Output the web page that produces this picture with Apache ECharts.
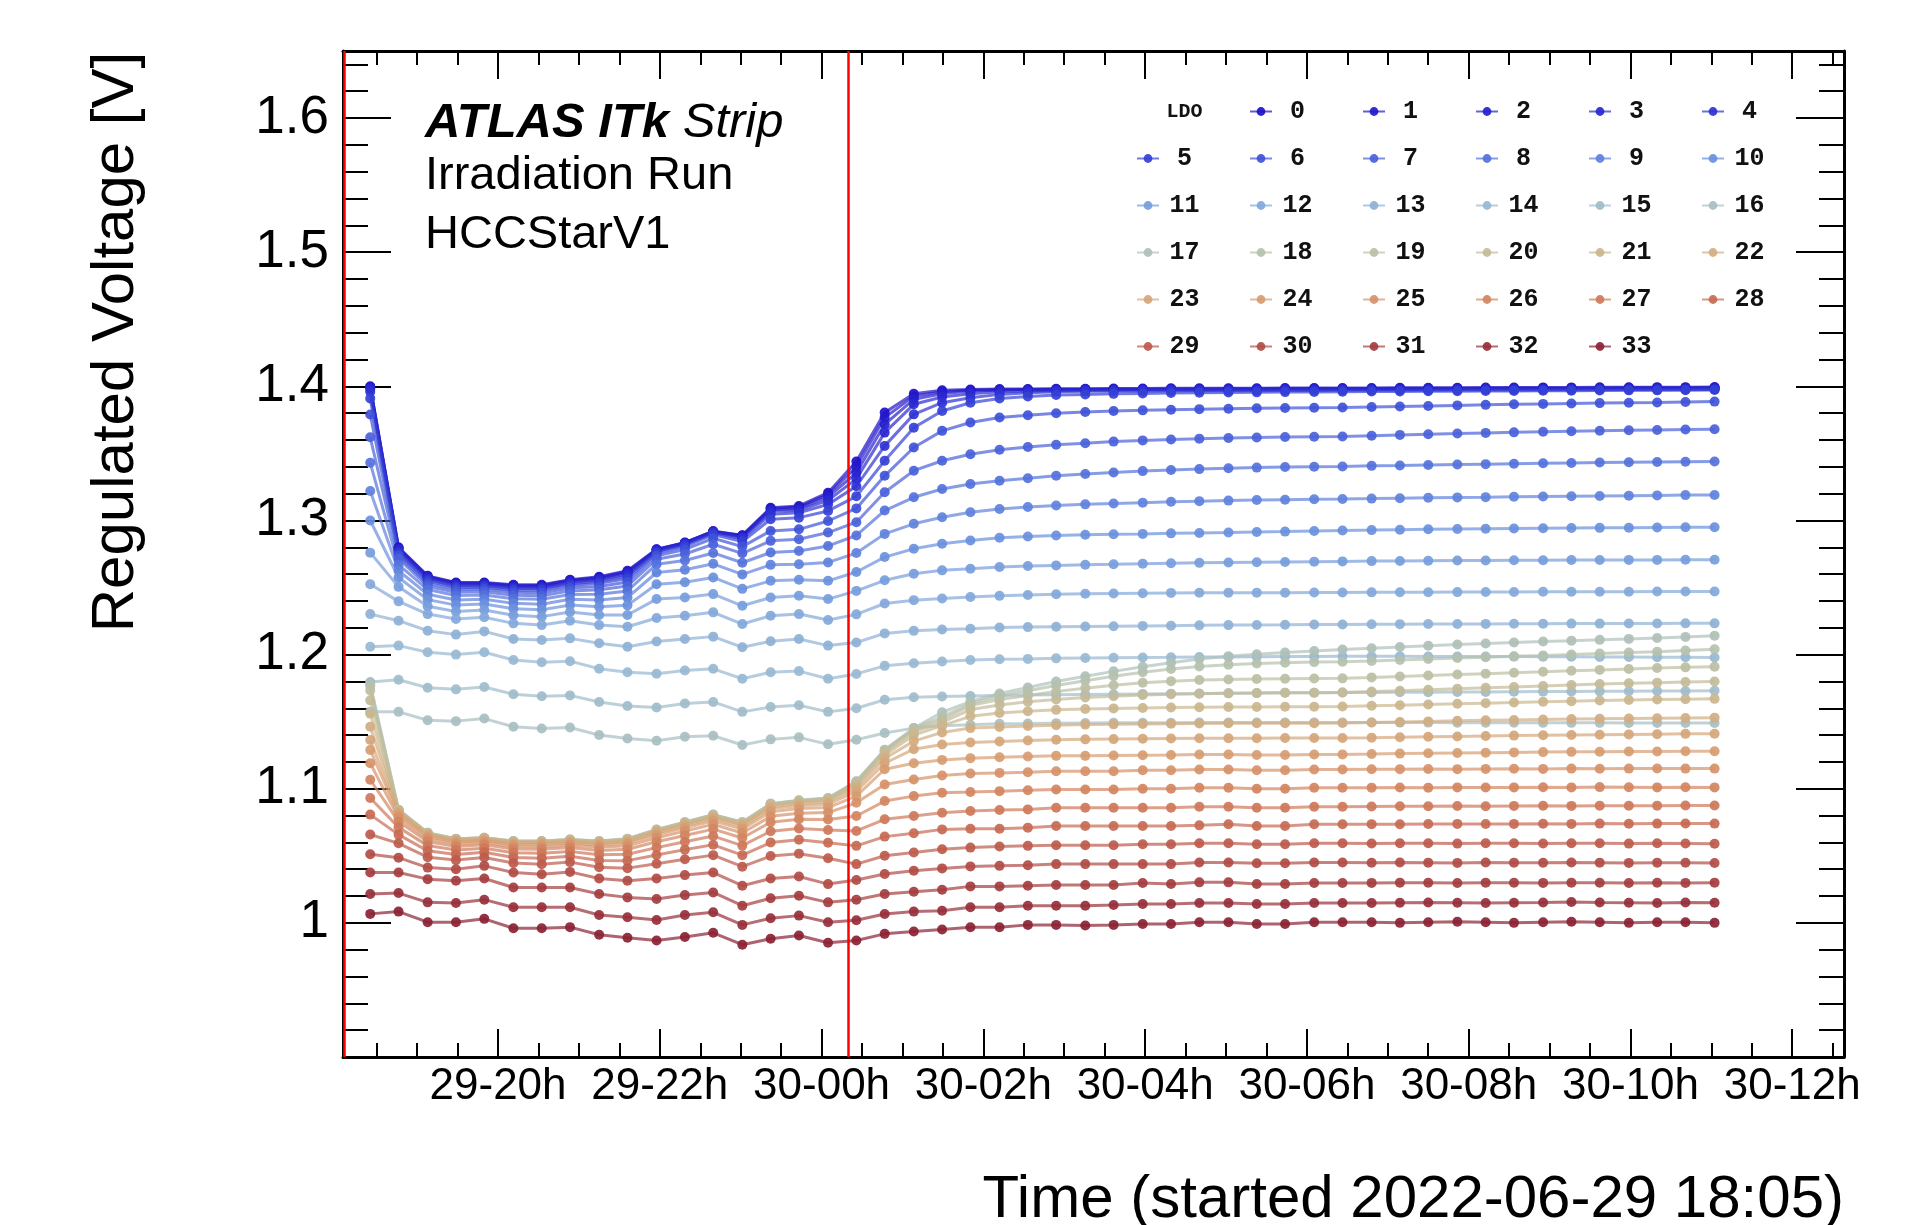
<!DOCTYPE html>
<html>
<head>
<meta charset="utf-8">
<title>HCCStarV1 LDO regulated voltage</title>
<script src="https://cdn.jsdelivr.net/npm/echarts@6/dist/echarts.min.js"></script>
<style>
  html, body { margin: 0; padding: 0; background: #fff; }
  #chart { width: 1914px; height: 1225px; }
</style>
</head>
<body>
<div id="chart"></div>
<script>
// time of each reading, hours since 29 June 00:00
var times = [18.42,18.77,19.13,19.48,19.83,20.19,20.54,20.89,21.25,21.60,
  21.96,22.31,22.66,23.02,23.37,23.72,24.08,24.43,24.78,25.14,
  25.49,25.84,26.20,26.55,26.90,27.26,27.61,27.97,28.32,28.67,
  29.03,29.38,29.73,30.09,30.44,30.80,31.15,31.50,31.86,32.21,
  32.56,32.92,33.27,33.62,33.98,34.33,34.68,35.04];

// regulated voltage [V] per LDO setting
var ldo0 = [1.400,1.280,1.2587,1.2538,1.2538,1.252,1.252,1.2558,1.258,1.2625,1.2786,1.2835,1.292,1.289,1.3095,1.3108,1.3207,1.344,
  1.3804,1.3945,1.397,1.3977,1.398,1.398,1.3982,1.3982,1.3984,1.3984,1.3985,1.3985,1.3986,1.3986,1.3987,1.3987,1.3988,1.3988,1.3989,1.399,1.399,1.3991,1.3991,1.3992,1.3992,1.3993,1.3993,1.3994,1.3994,1.3995];
var ldo1 = [1.3995,1.2795,1.2583,1.2534,1.2534,1.2516,1.2516,1.2554,1.2575,1.2619,1.2784,1.2834,1.2919,1.2887,1.3089,1.31,1.3195,1.340,
  1.3767,1.3927,1.396,1.3972,1.3975,1.3977,1.3978,1.3979,1.398,1.398,1.3981,1.3981,1.3982,1.3982,1.3983,1.3983,1.3984,1.3984,1.3985,1.3985,1.3986,1.3986,1.3987,1.3987,1.3988,1.3988,1.3989,1.3989,1.399,1.399];
var ldo2 = [1.399,1.279,1.2578,1.2529,1.2529,1.2511,1.251,1.2548,1.2568,1.2611,1.2781,1.2832,1.2917,1.2882,1.308,1.309,1.3175,1.3355,
  1.3717,1.3903,1.3945,1.3965,1.3972,1.3974,1.3975,1.3976,1.3977,1.3977,1.3978,1.3978,1.3979,1.3979,1.398,1.398,1.398,1.3981,1.3981,1.3982,1.3982,1.3983,1.3983,1.3984,1.3984,1.3985,1.3985,1.3986,1.3986,1.3987];
var ldo3 = [1.398,1.278,1.257,1.2521,1.2522,1.2503,1.2502,1.254,1.2558,1.26,1.2776,1.2828,1.2914,1.2875,1.3068,1.3076,1.315,1.331,
  1.3655,1.3866,1.392,1.3945,1.396,1.3965,1.3968,1.397,1.3971,1.3972,1.3973,1.3973,1.3974,1.3974,1.3975,1.3975,1.3976,1.3976,1.3977,1.3977,1.3978,1.3978,1.3979,1.3979,1.398,1.398,1.398,1.3981,1.3981,1.3982];
var ldo4 = [1.396,1.2765,1.256,1.2512,1.2513,1.2493,1.2492,1.2529,1.2546,1.2585,1.2768,1.282,1.2908,1.2863,1.3046,1.3058,1.312,1.3255,
  1.3556,1.3791,1.3878,1.3915,1.394,1.3952,1.396,1.3963,1.3965,1.3966,1.3967,1.3967,1.3968,1.3968,1.3969,1.3969,1.397,1.397,1.3971,1.3971,1.3972,1.3972,1.3973,1.3973,1.3974,1.3974,1.3975,1.3975,1.3976,1.3976];
var ldo5 = [1.391,1.275,1.2548,1.25,1.2502,1.2481,1.2479,1.2516,1.2531,1.2568,1.2755,1.2806,1.2895,1.2843,1.3009,1.3021,1.3071,1.318,
  1.3445,1.3692,1.3816,1.3878,1.391,1.3925,1.3935,1.394,1.3944,1.3947,1.395,1.3952,1.3954,1.3955,1.3957,1.3958,1.396,1.3961,1.3962,1.3963,1.3964,1.3965,1.3966,1.3967,1.3968,1.3969,1.397,1.397,1.3971,1.3972];
var ldo6 = [1.379,1.2735,1.253,1.2484,1.2487,1.2464,1.2461,1.2497,1.2508,1.2542,1.2736,1.2784,1.2867,1.2805,1.2922,1.2934,1.2996,1.309,
  1.3333,1.3544,1.3668,1.373,1.3767,1.3785,1.3799,1.3808,1.3816,1.3821,1.3826,1.383,1.3833,1.3836,1.3838,1.384,1.3842,1.3846,1.385,1.3854,1.3858,1.3862,1.3866,1.3869,1.3872,1.3875,1.3878,1.388,1.3883,1.3886];
var ldo7 = [1.362,1.2715,1.251,1.2464,1.2468,1.2442,1.2439,1.2475,1.2483,1.2512,1.2711,1.275,1.2823,1.2755,1.2848,1.286,1.291,1.2987,
  1.321,1.3371,1.3445,1.3494,1.3527,1.3548,1.3564,1.3576,1.3588,1.3597,1.3604,1.361,1.3615,1.3619,1.3622,1.3624,1.3626,1.3632,1.3638,1.3643,1.3648,1.3653,1.3657,1.3661,1.3665,1.3669,1.3672,1.3675,1.3678,1.368];
var ldo8 = [1.343,1.267,1.2485,1.244,1.2445,1.2417,1.2412,1.2448,1.245,1.2474,1.2674,1.2702,1.2758,1.2685,1.2761,1.2773,1.281,1.2888,
  1.3074,1.3173,1.3235,1.3272,1.3296,1.3315,1.3333,1.3346,1.3358,1.3368,1.3376,1.3383,1.3389,1.3394,1.3398,1.3401,1.3403,1.3407,1.341,1.3414,1.3417,1.342,1.3423,1.3426,1.3429,1.3432,1.3434,1.3436,1.3438,1.344];
var ldo9 = [1.322,1.2625,1.245,1.2407,1.2413,1.2382,1.2376,1.2412,1.2407,1.2425,1.2612,1.2633,1.2677,1.2598,1.2669,1.2674,1.2687,1.2757,
  1.29,1.2975,1.3024,1.3061,1.3086,1.31,1.3111,1.312,1.3127,1.3133,1.3139,1.3144,1.3148,1.3152,1.3155,1.3158,1.316,1.3163,1.3166,1.3169,1.3172,1.3174,1.3177,1.3179,1.3181,1.3183,1.3185,1.3187,1.3189,1.319];
var ldo10 = [1.300,1.2575,1.241,1.2369,1.2377,1.2342,1.2334,1.2369,1.2357,1.2367,1.2525,1.254,1.2575,1.249,1.255,1.2558,1.255,1.2616,
  1.2727,1.2789,1.2826,1.2851,1.2871,1.2881,1.2888,1.2893,1.2897,1.29,1.2904,1.2907,1.291,1.2914,1.2917,1.2921,1.2925,1.2928,1.2931,1.2934,1.2936,1.2938,1.294,1.2942,1.2944,1.2945,1.2946,1.2948,1.2949,1.295];
var ldo11 = [1.276,1.2505,1.236,1.2322,1.2333,1.2293,1.2283,1.2317,1.2295,1.2295,1.2414,1.2426,1.2451,1.2364,1.2426,1.2439,1.2414,1.2475,
  1.2554,1.2603,1.2628,1.264,1.2653,1.266,1.2665,1.267,1.2673,1.2678,1.2681,1.2684,1.2687,1.2689,1.2691,1.2693,1.2695,1.2697,1.2698,1.27,1.2701,1.2702,1.2703,1.2704,1.2705,1.2705,1.2706,1.2706,1.2707,1.2707];
var ldo12 = [1.2525,1.2397,1.2302,1.2265,1.2278,1.2233,1.222,1.2253,1.222,1.2208,1.2273,1.229,1.2315,1.2228,1.229,1.2302,1.2258,1.23,
  1.2381,1.2406,1.2418,1.243,1.2438,1.2444,1.245,1.2453,1.2456,1.2458,1.246,1.2461,1.2462,1.2462,1.2462,1.2463,1.2463,1.2464,1.2465,1.2465,1.2466,1.2467,1.2467,1.2468,1.2468,1.2469,1.2469,1.247,1.247,1.247];
var ldo13 = [1.2302,1.2253,1.2178,1.2149,1.2173,1.2116,1.2109,1.2121,1.2084,1.2059,1.2097,1.2116,1.2134,1.2055,1.2099,1.2116,1.2067,1.209,
  1.2158,1.2177,1.2187,1.2193,1.2202,1.2205,1.2208,1.221,1.2212,1.2214,1.2216,1.2218,1.222,1.2221,1.2222,1.2224,1.2225,1.2226,1.2227,1.2228,1.2228,1.2229,1.223,1.223,1.2231,1.2231,1.2232,1.2232,1.2233,1.2233];
var ldo14 = [1.2059,1.2067,1.2017,1.2,1.2017,1.196,1.1943,1.1951,1.1894,1.1869,1.1857,1.1881,1.1894,1.182,1.1869,1.1877,1.182,1.1856,
  1.1916,1.1935,1.1948,1.196,1.1965,1.1968,1.1972,1.1975,1.1977,1.1979,1.198,1.1982,1.1983,1.1984,1.1985,1.1986,1.1987,1.1987,1.1987,1.1986,1.1986,1.1985,1.1985,1.1984,1.1984,1.1983,1.1982,1.1981,1.198,1.1978];
var ldo15 = [1.1795,1.1812,1.1753,1.1741,1.1758,1.1704,1.1689,1.1696,1.1647,1.1617,1.1605,1.1635,1.1647,1.1573,1.161,1.1622,1.1573,1.16,
  1.1663,1.1682,1.1687,1.1692,1.1695,1.1698,1.17,1.1703,1.1705,1.1707,1.1709,1.171,1.1712,1.1713,1.1715,1.1716,1.1717,1.1718,1.1719,1.172,1.1721,1.1722,1.1723,1.1724,1.1725,1.1726,1.1727,1.1728,1.1729,1.173];
var ldo16 = [1.1573,1.1573,1.1511,1.1504,1.1523,1.1462,1.1449,1.1457,1.14,1.1375,1.1358,1.1388,1.1395,1.1326,1.1368,1.1383,1.1331,1.1365,
  1.1415,1.1452,1.147,1.1477,1.1484,1.1486,1.1489,1.149,1.1491,1.1492,1.1492,1.1493,1.1493,1.1494,1.1494,1.1494,1.1494,1.1494,1.1493,1.1493,1.1492,1.1492,1.1492,1.1491,1.1491,1.1491,1.149,1.149,1.149,1.149];
var ldo17 = [1.178,1.0844,1.0672,1.0627,1.0635,1.061,1.061,1.0622,1.061,1.0627,1.0696,1.0751,1.0807,1.0751,1.0889,1.0914,1.0931,1.1056,
  1.1291,1.1452,1.157,1.165,1.171,1.1755,1.18,1.1838,1.1875,1.191,1.194,1.1968,1.1988,1.2003,1.2015,1.2027,1.2038,1.2048,1.2057,1.2066,1.2075,1.2083,1.209,1.2097,1.2104,1.211,1.2117,1.2124,1.2132,1.214];
var ldo18 = [1.1765,1.0843,1.0671,1.0626,1.0634,1.0609,1.0609,1.0621,1.0609,1.0626,1.0695,1.075,1.0806,1.075,1.0887,1.0912,1.0929,1.1053,
  1.1288,1.1448,1.1535,1.1635,1.169,1.173,1.177,1.1805,1.1838,1.1868,1.1893,1.1912,1.1925,1.1933,1.194,1.1944,1.1947,1.1953,1.196,1.1967,1.1974,1.198,1.1987,1.1994,1.2001,1.2008,1.2015,1.2022,1.203,1.204];
var ldo19 = [1.1733,1.0841,1.067,1.0625,1.0634,1.0608,1.0608,1.062,1.0608,1.0625,1.0693,1.0748,1.0804,1.0748,1.0885,1.091,1.0927,1.1047,
  1.128,1.144,1.1515,1.162,1.1665,1.1695,1.1725,1.175,1.1772,1.179,1.1802,1.181,1.1815,1.1818,1.182,1.1822,1.1823,1.183,1.1837,1.1844,1.1851,1.1858,1.1865,1.1872,1.1879,1.1886,1.1893,1.19,1.1905,1.191];
var ldo20 = [1.1659,1.0839,1.0668,1.0624,1.0632,1.0606,1.0606,1.0618,1.0606,1.0622,1.069,1.0745,1.0801,1.0744,1.0881,1.0905,1.0921,1.1038,
  1.1268,1.1425,1.1495,1.159,1.1625,1.1648,1.1665,1.168,1.169,1.1698,1.1704,1.1708,1.1711,1.1713,1.1715,1.1716,1.1717,1.1724,1.1731,1.1738,1.1745,1.1752,1.1759,1.1766,1.1773,1.178,1.1786,1.1791,1.1796,1.18];
var ldo21 = [1.156,1.0834,1.0665,1.0621,1.0629,1.0604,1.0603,1.0615,1.0602,1.0619,1.0686,1.074,1.0795,1.0738,1.0874,1.0899,1.0914,1.1025,
  1.125,1.14,1.147,1.154,1.1565,1.1578,1.1588,1.1595,1.1599,1.1602,1.1605,1.1607,1.1609,1.161,1.1611,1.1612,1.1613,1.1618,1.1623,1.1628,1.1633,1.1638,1.1643,1.1648,1.1653,1.1658,1.1662,1.1665,1.1668,1.167];
var ldo22 = [1.1462,1.0828,1.066,1.0617,1.0626,1.0599,1.0599,1.0611,1.0597,1.0613,1.068,1.0733,1.0788,1.073,1.0864,1.0888,1.0902,1.1005,
  1.1225,1.1355,1.142,1.1452,1.146,1.1468,1.1474,1.1478,1.148,1.1483,1.1485,1.1487,1.1488,1.1488,1.1489,1.1489,1.149,1.1494,1.1498,1.1502,1.1506,1.151,1.1513,1.1516,1.1519,1.1522,1.1524,1.1526,1.1528,1.153];
var ldo23 = [1.1363,1.0819,1.0654,1.0611,1.062,1.0594,1.0593,1.0605,1.059,1.0605,1.067,1.0723,1.0777,1.0718,1.085,1.0874,1.0886,1.098,
  1.119,1.1295,1.133,1.1345,1.1352,1.136,1.1365,1.1368,1.137,1.1372,1.1374,1.1376,1.1377,1.1377,1.1378,1.1378,1.1378,1.1381,1.1384,1.1387,1.139,1.1393,1.1396,1.1399,1.1401,1.1403,1.1405,1.1407,1.1409,1.141];
var ldo24 = [1.1289,1.0805,1.0643,1.0602,1.0612,1.0584,1.0583,1.0595,1.0579,1.0593,1.0656,1.0708,1.0759,1.0699,1.0828,1.0852,1.086,1.0945,
  1.1145,1.119,1.1215,1.1228,1.1235,1.124,1.1245,1.1245,1.1248,1.125,1.1252,1.1255,1.1255,1.1252,1.1252,1.1255,1.1256,1.1259,1.1262,1.1265,1.1267,1.1269,1.1271,1.1273,1.1275,1.1276,1.1277,1.1278,1.1279,1.128];
var ldo25 = [1.119,1.0783,1.0628,1.0588,1.0599,1.057,1.0568,1.0581,1.0563,1.0574,1.0634,1.0684,1.0734,1.067,1.0794,1.0817,1.0822,1.0895,
  1.1032,1.1069,1.1098,1.1113,1.1118,1.1123,1.113,1.113,1.113,1.1138,1.1138,1.1143,1.1143,1.1138,1.1138,1.1143,1.1143,1.1145,1.1146,1.1147,1.1146,1.1148,1.1149,1.1148,1.115,1.1149,1.115,1.1151,1.115,1.115];
var ldo26 = [1.1067,1.0755,1.0607,1.057,1.0583,1.0551,1.0548,1.0562,1.054,1.0549,1.0605,1.0652,1.0699,1.0633,1.075,1.0772,1.0771,1.0797,
  1.0908,1.0945,1.097,1.0975,1.0982,1.0989,1.0994,1.0994,1.0994,1.1,1.1,1.1007,1.1007,1.1,1.1,1.1007,1.1007,1.1008,1.1009,1.1008,1.101,1.1009,1.101,1.1011,1.101,1.1012,1.1011,1.101,1.1011,1.101];
var ldo27 = [1.0931,1.0712,1.0576,1.0543,1.0557,1.0523,1.0519,1.0532,1.0507,1.0511,1.0561,1.0605,1.0647,1.0576,1.0683,1.0704,1.0693,1.0685,
  1.0772,1.0797,1.0821,1.0834,1.0841,1.0846,1.0858,1.0858,1.0858,1.0858,1.0858,1.0866,1.0866,1.0858,1.0858,1.0866,1.0866,1.0868,1.0869,1.087,1.0871,1.087,1.0872,1.0873,1.0872,1.0874,1.0873,1.0874,1.0875,1.0875];
var ldo28 = [1.0807,1.0658,1.0537,1.0509,1.0526,1.0488,1.0482,1.0496,1.0465,1.0464,1.0506,1.0546,1.0582,1.0505,1.0599,1.0619,1.0597,1.0574,
  1.0643,1.0668,1.0697,1.0702,1.0702,1.071,1.0722,1.0722,1.0722,1.0722,1.0722,1.0727,1.0735,1.0722,1.0722,1.0735,1.0735,1.0736,1.0735,1.0737,1.0738,1.0737,1.0738,1.0739,1.0738,1.074,1.0739,1.074,1.0741,1.074];
var ldo29 = [1.0659,1.0593,1.049,1.0468,1.0488,1.0446,1.0437,1.0453,1.0415,1.0408,1.0441,1.0474,1.0505,1.0419,1.0498,1.0516,1.0482,1.0438,
  1.05,1.0524,1.0549,1.0561,1.0569,1.0574,1.0579,1.0579,1.0579,1.0586,1.0586,1.0594,1.0594,1.0586,1.0586,1.0594,1.0594,1.0592,1.0594,1.0593,1.0591,1.0594,1.0593,1.0592,1.0594,1.0593,1.0591,1.0593,1.0592,1.059];
var ldo30 = [1.0511,1.0486,1.0412,1.04,1.0425,1.0375,1.0363,1.038,1.0331,1.0314,1.0331,1.0356,1.0375,1.0277,1.0331,1.0346,1.0289,1.032,
  1.0364,1.0388,1.0406,1.0421,1.0425,1.043,1.0438,1.0438,1.0438,1.0438,1.0438,1.045,1.045,1.0445,1.0445,1.045,1.045,1.0448,1.045,1.0449,1.0447,1.045,1.0449,1.0448,1.045,1.0449,1.0447,1.0449,1.0448,1.0446];
var ldo31 = [1.0375,1.0375,1.0326,1.0314,1.0331,1.0264,1.0264,1.0264,1.0215,1.019,1.0178,1.0207,1.0227,1.0128,1.0183,1.0202,1.0153,1.0172,
  1.0215,1.0232,1.0247,1.0272,1.0272,1.0277,1.0282,1.0282,1.0282,1.0297,1.029,1.0302,1.0302,1.029,1.029,1.0297,1.0297,1.0298,1.03,1.0299,1.0297,1.03,1.0299,1.0298,1.03,1.0299,1.0297,1.0299,1.0298,1.03];
var ldo32 = [1.0215,1.0222,1.0153,1.0148,1.0173,1.0116,1.0116,1.0116,1.0059,1.0042,1.0022,1.0059,1.0079,0.9985,1.0035,1.0054,1.0005,1.002,
  1.0066,1.0084,1.0091,1.0116,1.0116,1.0128,1.0128,1.0128,1.0133,1.0141,1.0141,1.0148,1.0148,1.0141,1.0141,1.0148,1.0148,1.0148,1.015,1.0152,1.015,1.0148,1.015,1.0152,1.0155,1.0152,1.015,1.0148,1.0152,1.015];
var ldo33 = [1.0067,1.0084,1.0005,1.0005,1.003,0.996,0.996,0.9968,0.9911,0.9889,0.9869,0.9894,0.9926,0.9837,0.9881,0.9906,0.9852,0.9869,
  0.9918,0.9935,0.995,0.9967,0.9967,0.9985,0.9985,0.998,0.9985,0.9992,0.9992,1.0005,1.0005,0.9992,0.9992,1.0005,1.0005,1.0005,1.0,1.0005,1.0008,1.0005,1.0,1.0005,1.0008,1.0005,1.0,1.0005,1.0005,1.0];

var ldoSets = [ldo0,ldo1,ldo2,ldo3,ldo4,ldo5,ldo6,ldo7,ldo8,ldo9,ldo10,ldo11,ldo12,ldo13,ldo14,ldo15,ldo16,
  ldo17,ldo18,ldo19,ldo20,ldo21,ldo22,ldo23,ldo24,ldo25,ldo26,ldo27,ldo28,ldo29,ldo30,ldo31,ldo32,ldo33];

var ldoColors = ['#2010c8','#2318cb','#2620cd','#2a28cf','#2e32d2','#3541d5','#3f52d8','#4a62da','#5472dc',
  '#5f82dd','#6a90dd','#769ddc','#82a8da','#8eb1d6','#98b8d2','#a0bccb','#a8bfc2','#afc0b9','#b5c1ae',
  '#bcbfa3','#c4bb98','#cbb68d','#d1ae83','#d5a67a','#d79c71','#d69169','#d38561','#ce785a','#c76a53',
  '#bd5b4c','#b14c45','#a43d3f','#972f39','#8a2233'];

// axes
var xMin = 18.0833, xMax = 36.64;
var xMajor = [20,22,24,26,28,30,32,34,36];
var xLabels = ['29-20h','29-22h','30-00h','30-02h','30-04h','30-06h','30-08h','30-10h','30-12h'];
var yMin = 0.9, yMax = 1.65;
var yMajor = [1.0,1.1,1.2,1.3,1.4,1.5,1.6];
var yLabels = ['1','1.1','1.2','1.3','1.4','1.5','1.6'];
var eventTimes = [18.1, 24.33];   // red markers: run start and the later intervention

var xMinor = [];
for (var h = 18.5; h < xMax; h += 0.5) {
  if (Math.abs(h / 2 - Math.round(h / 2)) > 0.01) xMinor.push(h);
}
var yMinor = [];
for (var k = 46; k <= 82; k++) {
  if (k % 5 !== 0) yMinor.push(k / 50);
}

var FONT = '"Liberation Sans", Arial, Helvetica, sans-serif';
var MONO = '"Liberation Mono", "DejaVu Sans Mono", monospace';

function xAxisDef(pos, major) {
  return {
    type: 'value', min: xMin, max: xMax, position: pos, gridIndex: 0,
    axisLine: { show: major, onZero: false, lineStyle: { color: '#000', width: 3 } },
    axisTick: { show: true, inside: true, length: major ? 28 : 14,
      customValues: major ? xMajor : xMinor, lineStyle: { color: '#000', width: 2 } },
    axisLabel: { show: major && pos === 'bottom', customValues: xMajor, margin: 8,
      fontSize: 44, color: '#000', fontFamily: FONT,
      formatter: function (v) {
        var i = xMajor.indexOf(Math.round(v));
        return i >= 0 ? xLabels[i] : '';
      } },
    splitLine: { show: false }
  };
}
function yAxisDef(pos, major) {
  return {
    type: 'value', min: yMin, max: yMax, position: pos, gridIndex: 0,
    axisLine: { show: major, onZero: false, lineStyle: { color: '#000', width: 3 } },
    axisTick: { show: true, inside: true, length: major ? 48 : 25,
      customValues: major ? yMajor : yMinor, lineStyle: { color: '#000', width: 2 } },
    axisLabel: { show: major && pos === 'left', customValues: yMajor, margin: 14,
      fontSize: 53, color: '#000', fontFamily: FONT,
      formatter: function (v) {
        var i = yMajor.indexOf(Math.round(v * 10) / 10);
        return i >= 0 ? yLabels[i] : '';
      } },
    splitLine: { show: false }
  };
}

var series = [{ name: 'LDO', type: 'line', data: [] }];
ldoSets.forEach(function (vals, n) {
  var s = {
    name: String(n),
    type: 'line',
    data: times.map(function (t, i) { return [t, vals[i]]; }),
    symbol: 'circle',
    symbolSize: 10,
    showSymbol: true,
    lineStyle: { color: ldoColors[n], width: 3, opacity: 0.7 },
    itemStyle: { color: ldoColors[n], opacity: 0.92 },
    emphasis: { disabled: true },
    silent: true
  };
  if (n === ldoSets.length - 1) {
    s.markLine = {
      silent: true, symbol: ['none', 'none'], label: { show: false },
      lineStyle: { color: '#ff0000', width: 2.5, type: 'solid', opacity: 1 },
      data: eventTimes.map(function (t) { return { xAxis: t }; })
    };
  }
  series.push(s);
});

var legendData = [{ name: 'LDO', itemStyle: { opacity: 0 }, lineStyle: { opacity: 0 } }];
ldoSets.forEach(function (v, n) { legendData.push({ name: String(n) }); });

var chart = echarts.init(document.getElementById('chart'), null, { renderer: 'canvas' });
chart.setOption({
  animation: false,
  backgroundColor: '#fff',
  textStyle: { fontFamily: FONT },
  grid: { left: 343, right: 70, top: 51, bottom: 168, containLabel: false },
  xAxis: [xAxisDef('bottom', true), xAxisDef('bottom', false), xAxisDef('top', true), xAxisDef('top', false)],
  yAxis: [yAxisDef('left', true), yAxisDef('left', false), yAxisDef('right', true), yAxisDef('right', false)],
  legend: {
    data: legendData,
    left: 1136, top: 93, width: 670,
    padding: 0, itemGap: 10, itemWidth: 22, itemHeight: 11,
    selectedMode: false,
    formatter: function (name) {
      return (name === 'LDO' ? '{h|LDO}' : '{v|' + name + '}') + '{p| }';
    },
    textStyle: {
      color: '#000',
      rich: {
        v: { width: 41, align: 'right', fontFamily: MONO, fontWeight: 'bold', fontSize: 25, lineHeight: 37, height: 37, color: '#111' },
        h: { width: 41, align: 'right', fontFamily: MONO, fontWeight: 'bold', fontSize: 20, lineHeight: 37, height: 37, color: '#111' },
        p: { width: 34, fontSize: 10, lineHeight: 37, height: 37 }
      }
    }
  },
  graphic: [
    { type: 'text', x: 116, y: 342, rotation: Math.PI / 2, silent: true,
      style: { text: 'Regulated Voltage [V]', fill: '#000', font: '60px ' + FONT,
        textAlign: 'center', align: 'center', textVerticalAlign: 'middle', verticalAlign: 'middle' } },
    { type: 'text', x: 1844, y: 1200, silent: true,
      style: { text: 'Time (started 2022-06-29 18:05)', fill: '#000', font: '60px ' + FONT,
        textAlign: 'right', align: 'right', textVerticalAlign: 'middle', verticalAlign: 'middle' } },
    { type: 'text', x: 425, y: 123, silent: true,
      style: { text: '{b|ATLAS ITk\u00a0}{i|Strip}', fill: '#000',
        textVerticalAlign: 'middle', verticalAlign: 'middle',
        rich: {
          b: { fontFamily: FONT, fontSize: 49, fontWeight: 'bold', fontStyle: 'italic', fill: '#000' },
          i: { fontFamily: FONT, fontSize: 49, fontStyle: 'italic', fill: '#000' }
        } } },
    { type: 'text', x: 425, y: 176, silent: true,
      style: { text: 'Irradiation Run', fill: '#000', font: '47px ' + FONT,
        textVerticalAlign: 'middle', verticalAlign: 'middle' } },
    { type: 'text', x: 425, y: 235, silent: true,
      style: { text: 'HCCStarV1', fill: '#000', font: '47px ' + FONT,
        textVerticalAlign: 'middle', verticalAlign: 'middle' } }
  ],
  series: series
});
</script>
</body>
</html>
